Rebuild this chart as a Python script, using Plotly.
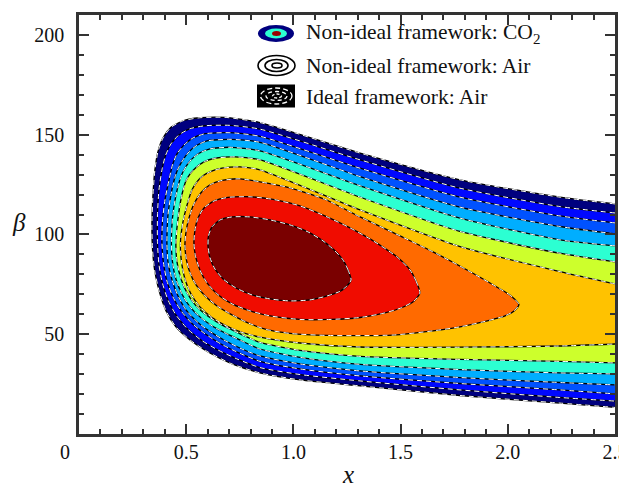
import plotly.graph_objects as go

# ---- contour boundaries (x, beta), outermost first ----
b1_x = [2.5, 2.243, 1.777, 1.311, 0.844, 0.681, 0.564, 0.485, 0.429, 0.392, 0.368, 0.354, 0.345, 0.340, 0.343, 0.354, 0.375, 0.406, 0.452, 0.518, 0.602, 0.714, 0.844, 1.031, 1.311, 1.777, 2.243, 2.5]
b1_beta = [115.3, 118.7, 127.4, 140.8, 156.1, 158.7, 158.5, 157.0, 153.7, 148.4, 141.4, 132.4, 119.9, 104.8, 92.3, 81.2, 71.2, 61.7, 53.7, 47.1, 41.1, 35.1, 30.6, 27.1, 24.1, 19.3, 15.5, 13.3]

b2_x = [2.5, 2.243, 1.777, 1.311, 0.844, 0.704, 0.588, 0.518, 0.466, 0.429, 0.403, 0.387, 0.373, 0.366, 0.366, 0.373, 0.389, 0.415, 0.452, 0.504, 0.569, 0.648, 0.742, 0.844, 1.031, 1.311, 1.777, 2.243, 2.5]
b2_beta = [110.8, 114.0, 123.2, 137.4, 152.8, 154.7, 154.5, 153.0, 149.9, 145.4, 139.4, 132.4, 122.4, 109.8, 95.8, 84.8, 75.7, 67.2, 59.7, 52.9, 47.1, 42.1, 37.4, 33.3, 29.8, 26.6, 22.1, 18.3, 16.5]

b3_x = [2.5, 2.243, 1.777, 1.311, 0.844, 0.704, 0.588, 0.532, 0.490, 0.457, 0.436, 0.420, 0.401, 0.389, 0.387, 0.394, 0.410, 0.438, 0.476, 0.527, 0.588, 0.662, 0.751, 0.844, 1.031, 1.311, 1.777, 2.243, 2.5]
b3_beta = [105.8, 109.3, 118.7, 133.2, 149.2, 151.0, 150.5, 148.4, 144.9, 140.4, 134.9, 127.4, 117.4, 106.3, 95.8, 85.8, 76.7, 68.7, 61.7, 55.4, 50.2, 45.1, 40.4, 36.4, 32.6, 29.1, 25.3, 22.1, 20.1]

b4_x = [2.5, 2.243, 1.777, 1.311, 0.844, 0.704, 0.597, 0.550, 0.513, 0.485, 0.464, 0.448, 0.429, 0.415, 0.410, 0.415, 0.434, 0.462, 0.499, 0.546, 0.606, 0.676, 0.760, 0.844, 1.031, 1.311, 1.777, 2.243, 2.5]
b4_beta = [100.3, 104.0, 113.7, 129.0, 146.2, 147.7, 146.9, 144.7, 141.4, 137.4, 133.4, 128.9, 119.9, 109.8, 95.8, 86.3, 77.2, 69.2, 62.2, 56.7, 51.7, 47.1, 42.6, 39.1, 35.1, 31.6, 28.3, 25.8, 24.6]

b5_x = [2.5, 2.243, 1.777, 1.311, 0.844, 0.704, 0.611, 0.560, 0.527, 0.501, 0.483, 0.469, 0.450, 0.436, 0.431, 0.436, 0.452, 0.480, 0.518, 0.564, 0.625, 0.695, 0.770, 0.844, 1.031, 1.311, 1.777, 2.243, 2.5]
b5_beta = [94.3, 97.3, 108.2, 124.4, 141.9, 143.7, 142.9, 140.7, 137.9, 134.4, 130.9, 126.9, 118.4, 108.3, 95.8, 86.3, 77.7, 70.2, 63.7, 58.7, 53.9, 49.9, 46.1, 42.6, 38.4, 34.9, 32.3, 30.6, 30.1]

b6_x = [2.5, 2.243, 1.777, 1.311, 0.844, 0.728, 0.634, 0.583, 0.546, 0.518, 0.499, 0.480, 0.464, 0.452, 0.457, 0.476, 0.504, 0.546, 0.597, 0.658, 0.723, 0.788, 0.844, 1.031, 1.311, 1.777, 2.243, 2.5]
b6_beta = [86.3, 90.6, 101.5, 118.7, 137.4, 138.9, 138.2, 136.4, 133.6, 130.4, 126.9, 119.9, 109.8, 95.8, 86.3, 77.7, 70.7, 64.2, 59.4, 55.2, 51.7, 48.4, 45.9, 41.9, 38.9, 37.4, 36.4, 35.6]

b7_x = [2.5, 2.243, 1.777, 1.311, 0.844, 0.751, 0.667, 0.616, 0.578, 0.550, 0.527, 0.504, 0.485, 0.473, 0.478, 0.494, 0.522, 0.564, 0.620, 0.686, 0.760, 0.844, 1.031, 1.311, 1.777, 2.243, 2.5]
b7_beta = [75.2, 81.4, 93.9, 112.3, 132.4, 133.9, 133.2, 131.6, 129.4, 126.4, 122.4, 114.8, 106.3, 95.8, 86.3, 77.7, 70.2, 63.7, 58.4, 54.2, 50.9, 48.6, 45.6, 43.6, 43.5, 44.1, 45.1]

b8_x = [2.052, 2.015, 1.964, 1.810, 1.651, 1.497, 1.311, 1.152, 0.984, 0.844, 0.751, 0.667, 0.611, 0.569, 0.536, 0.513, 0.499, 0.494, 0.501, 0.518, 0.546, 0.588, 0.644, 0.714, 0.788, 0.872, 0.984, 1.157, 1.465, 1.651, 1.777, 1.884, 1.987, 2.029, 2.052]
b8_beta = [64.9, 69.2, 72.7, 82.2, 91.3, 99.3, 108.8, 117.4, 123.4, 126.4, 127.9, 127.1, 124.9, 120.9, 115.3, 108.3, 101.3, 94.8, 87.3, 80.7, 74.7, 69.2, 64.2, 59.7, 55.7, 52.4, 50.4, 49.4, 49.6, 51.7, 53.7, 56.2, 59.2, 61.7, 64.9]

b9_x = [1.590, 1.572, 1.544, 1.488, 1.437, 1.357, 1.264, 1.157, 1.031, 0.905, 0.798, 0.695, 0.630, 0.583, 0.555, 0.541, 0.536, 0.543, 0.564, 0.597, 0.644, 0.714, 0.798, 0.891, 1.031, 1.171, 1.311, 1.427, 1.507, 1.563, 1.590]
b9_beta = [70.6, 76.7, 82.2, 88.3, 92.3, 97.8, 103.3, 108.8, 114.3, 117.6, 118.9, 118.6, 116.8, 113.3, 108.3, 102.3, 95.8, 89.3, 82.2, 75.7, 70.2, 65.2, 61.7, 59.2, 57.4, 57.4, 58.4, 60.7, 63.4, 66.7, 70.6]

b10_x = [1.269, 1.255, 1.231, 1.189, 1.138, 1.068, 0.984, 0.891, 0.798, 0.714, 0.658, 0.620, 0.604, 0.602, 0.611, 0.634, 0.672, 0.732, 0.807, 0.891, 0.984, 1.077, 1.157, 1.217, 1.250, 1.269]
b10_beta = [77.2, 82.2, 87.3, 92.3, 96.8, 101.3, 104.8, 107.3, 108.8, 108.8, 107.3, 103.8, 99.3, 93.8, 88.3, 82.7, 77.7, 73.2, 69.7, 67.7, 66.7, 67.2, 69.2, 71.5, 74.2, 77.2]

x_tick_vals = [0.5, 1.0, 1.5, 2.0, 2.5]
x_tick_text = ["0.5", "1.0", "1.5", "2.0", "2.5"]
y_tick_vals = [50, 100, 150, 200]
y_tick_text = ["50", "100", "150", "200"]

legend_labels = ["Non-ideal framework: CO<sub>2</sub>",
                 "Non-ideal framework: Air",
                 "Ideal framework: Air"]

band_colors = ["#00007F", "#0008FF", "#0052FF", "#00AEFF", "#2CFFD2",
               "#CDFF2C", "#FFC200", "#FF6A00", "#F00C00", "#7A0000"]

xs_all = [b1_x, b2_x, b3_x, b4_x, b5_x, b6_x, b7_x, b8_x, b9_x, b10_x]
bs_all = [b1_beta, b2_beta, b3_beta, b4_beta, b5_beta, b6_beta, b7_beta, b8_beta, b9_beta, b10_beta]

SERIF = "Liberation Serif"
AX = "#333333"
TXT = "#111111"
GAP = "\u2009\u2009"  # small gap between y tick labels and the frame

fig = go.Figure()
spl = dict(shape="spline", smoothing=0.6)
for xs, bs, col in zip(xs_all, bs_all, band_colors):
    fig.add_trace(go.Scatter(x=xs, y=bs, mode="lines", fill="toself", fillcolor=col,
                             line=dict(width=0, color=col, **spl),
                             hoverinfo="skip", showlegend=False))
for xs, bs in zip(xs_all, bs_all):
    fig.add_trace(go.Scatter(x=xs, y=bs, mode="lines",
                             line=dict(width=1.3, color="black", **spl),
                             hoverinfo="skip", showlegend=False))
for xs, bs in zip(xs_all, bs_all):
    fig.add_trace(go.Scatter(x=xs, y=bs, mode="lines",
                             line=dict(width=1.0, color="white", dash="5px,4px", **spl),
                             hoverinfo="skip", showlegend=False))

# the page body has an 8px margin, so the figure is 8px smaller than the window
W, H = 619, 479
L, R, T, B = 71, 12, 7, 53
PW, PH = W - L - R, H - T - B
PAGE_PLOT_LEFT, PAGE_PLOT_BOTTOM = 79, 434


def px(xp):
    return (xp - PAGE_PLOT_LEFT) / PW


def py(yp):
    return (PAGE_PLOT_BOTTOM - yp) / PH


shapes = []


def ellipse(x0, x1, y0, y1, fill=None, line_color=None, lw=1.5, dash=None):
    d = dict(type="circle", xref="paper", yref="paper",
             x0=px(x0), x1=px(x1), y0=py(y1), y1=py(y0), layer="above")
    d["fillcolor"] = fill if fill else "rgba(0,0,0,0)"
    if line_color:
        d["line"] = dict(color=line_color, width=lw)
        if dash:
            d["line"]["dash"] = dash
    else:
        d["line"] = dict(width=0)
    shapes.append(d)


# legend icon 1: coloured rings
ellipse(258, 294, 25, 42, fill="#00007F")
ellipse(265, 287, 28.5, 38.5, fill="#2CFFD2")
ellipse(272, 281, 31, 36, fill="#9A0000")
# legend icon 2: black rings
ellipse(258, 295, 55.5, 75.5, line_color="black", lw=1.6)
ellipse(265, 288, 59.5, 71.5, line_color="black", lw=1.6)
ellipse(272, 282, 63, 68, line_color="black", lw=1.6)
# legend icon 3: black box with white dashed rings
shapes.append(dict(type="rect", xref="paper", yref="paper", x0=px(257), x1=px(295),
                   y0=py(107.5), y1=py(84.5), fillcolor="black", line=dict(width=0), layer="above"))
ellipse(260.5, 292, 88, 104, line_color="white", lw=1.3, dash="5px,3px")
ellipse(266, 287, 91.5, 100.5, line_color="white", lw=1.3, dash="4px,3px")
ellipse(272.5, 281.5, 94, 98, line_color="white", lw=1.3, dash="3px,2px")

annotations = []
for lab, yc in zip(legend_labels, [33, 66, 97]):
    annotations.append(dict(text=lab, xref="paper", yref="paper", x=px(304), y=py(yc),
                            xanchor="left", yanchor="middle", showarrow=False,
                            font=dict(family=SERIF, size=21.5, color=TXT)))
annotations.append(dict(text="<i>x</i>", xref="paper", yref="paper", x=px(348), y=py(474),
                        xanchor="center", yanchor="middle", showarrow=False,
                        font=dict(family=SERIF, size=25, color=TXT)))
annotations.append(dict(text="<i>β</i>", xref="paper", yref="paper", x=px(19), y=py(222),
                        xanchor="center", yanchor="middle", showarrow=False,
                        font=dict(family=SERIF, size=25, color=TXT)))
annotations.append(dict(text="0", xref="paper", yref="paper", x=px(65), y=py(452),
                        xanchor="center", yanchor="middle", showarrow=False,
                        font=dict(family=SERIF, size=20, color=TXT)))

axis_common = dict(showline=True, linecolor=AX, linewidth=2.5, mirror="allticks",
                   ticks="inside", ticklen=10, tickwidth=2, tickcolor=AX,
                   showgrid=False, zeroline=False, ticklabeloverflow="allow",
                   tickfont=dict(family=SERIF, size=20, color=TXT))

fig.update_layout(
    width=W, height=H,
    margin=dict(l=L, r=R, t=T, b=B, pad=0),
    paper_bgcolor="white", plot_bgcolor="white",
    showlegend=False,
    xaxis=dict(range=[0, 2.5], tickmode="array", tickvals=x_tick_vals, ticktext=x_tick_text,
               minor=dict(tickmode="linear", tick0=0, dtick=0.1, ticks="inside",
                          ticklen=5, tickwidth=1.5, tickcolor=AX, showgrid=False),
               ticklabelstandoff=-2, automargin=False, **axis_common),
    yaxis=dict(range=[0, 210], tickmode="array", tickvals=y_tick_vals,
               ticktext=[t + GAP for t in y_tick_text],
               minor=dict(tickmode="linear", tick0=0, dtick=10, ticks="inside",
                          ticklen=5, tickwidth=1.5, tickcolor=AX, showgrid=False),
               automargin=False, **axis_common),
    shapes=shapes,
    annotations=annotations,
)

fig.write_html("out.html")
